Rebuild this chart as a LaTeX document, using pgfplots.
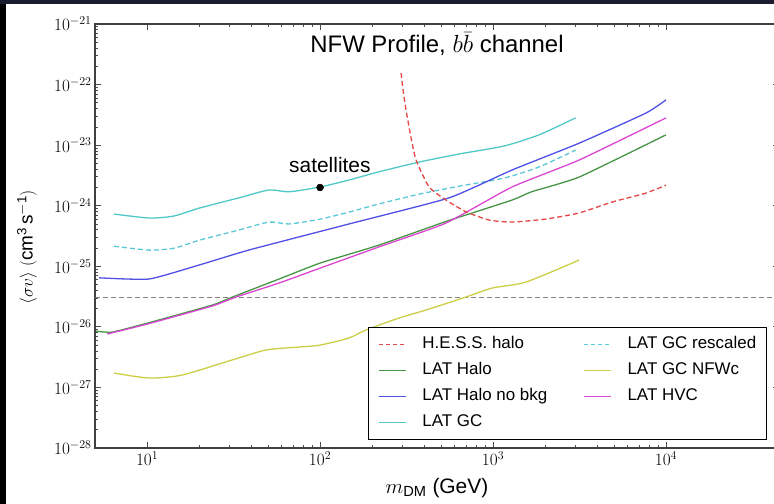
\documentclass[border=0pt]{standalone}
\usepackage{fontspec}
\setmainfont{Liberation Sans}
\usepackage{pgfplots}
\pgfplotsset{compat=1.18}
\definecolor{cHESS}{RGB}{230,70,70}
\definecolor{cHalo}{RGB}{70,150,70}
\definecolor{cNoBkg}{RGB}{80,80,230}
\definecolor{cGC}{RGB}{80,200,200}
\definecolor{cGCr}{RGB}{90,200,215}
\definecolor{cNFWc}{RGB}{205,205,70}
\definecolor{cHVC}{RGB}{220,70,210}
\definecolor{cNavy}{RGB}{28,28,48}
\begin{document}
\begin{tikzpicture}
\fill[white] (0bp,0bp) rectangle (774bp,504bp);
\begin{axis}[
  at={(95bp,56bp)}, anchor=south west,
  scale only axis, width=684bp, height=424bp,
  xmode=log, ymode=log,
  xmin=5, xmax=4.5e4, ymin=1e-28, ymax=1e-21,
  xtick={10,100,1000,10000},
  ytick={1e-28,1e-27,1e-26,1e-25,1e-24,1e-23,1e-22,1e-21},
  tick label style={font=\fontsize{17.5}{17.5}\selectfont},
  major tick length=6bp, minor tick length=3bp,
  tick style={black!70, line width=0.8bp},
  axis line style={black!75, line width=1.2bp},
  xlabel={$m_{\mathrm{DM}}$ (GeV)},
  xlabel style={at={(axis description cs:0.5,-0.108)}, anchor=base, font=\fontsize{21}{21}\selectfont},
  ylabel={$\langle\sigma v\rangle\ (\mathrm{cm^3\,s^{-1}})$},
  ylabel style={at={(axis description cs:-0.0994,0.474)}, anchor=center, rotate=0, font=\fontsize{19}{19}\selectfont},
  legend columns=2,
  legend cell align=left,
  legend image code/.code={\draw[#1] (0bp,0bp) -- (27bp,0bp);},
  legend style={at={(axis description cs:0.982,0.019)}, anchor=south east,
    draw=black, line width=1bp, fill=white,
    font=\fontsize{17}{17}\selectfont,
    inner xsep=10bp, inner ysep=9bp, row sep=10bp, column sep=0bp,
    nodes={inner sep=0bp, text height=12.5bp, text depth=3.5bp},
    /tikz/every odd column/.append style={column sep=16bp},
    /tikz/every even column/.append style={column sep=36bp}},
]
% thermal relic
\addplot[forget plot, gray, line width=1bp, dash pattern=on 5bp off 3bp] coordinates {(5,3.1e-26) (4.5e4,3.1e-26)};
% LAT GC rescaled (dashed cyan)
\addplot[forget plot, cGCr, line width=1.3bp, dash pattern=on 5bp off 3bp, smooth, tension=0.4] coordinates {
(6.44,2.15e-25) (10.27,1.85e-25) (14.3,1.99e-25) (20,2.69e-25) (34,3.98e-25) (50.7,5.37e-25) (66.2,5.0e-25) (100,6.0e-25) (147,7.85e-25) (219,1.07e-24) (373,1.55e-24) (635,2.1e-24) (1158,2.86e-24) (1846,4.37e-24) (3000,8.3e-24)};
% LAT GC NFWc
\addplot[forget plot, cNFWc, line width=1.3bp, smooth, tension=0.4] coordinates {
(6.44,1.73e-27) (10.27,1.43e-27) (15.9,1.60e-27) (31,2.84e-27) (48.7,4.15e-27) (75.7,4.65e-27) (100,5.0e-27) (147,6.55e-27) (184,8.87e-27) (286,1.40e-26) (410,1.9e-26) (698,3.11e-26) (986,4.37e-26) (1552,5.5e-26) (3150,1.27e-25)};
% LAT Halo (green)
\addplot[forget plot, cHalo, line width=1.3bp, smooth, tension=0.3] coordinates {
(5.07,8.5e-27) (6.28,8.2e-27) (10,1.15e-26) (23.8,2.29e-26) (31,3.09e-26) (58,6.17e-26) (100,1.13e-25) (219,2.24e-25) (535,5.5e-25) (1288,1.24e-24) (1670,1.70e-24) (3150,2.98e-24) (10000,1.48e-23)};
% LAT HVC (magenta)
\addplot[forget plot, cHVC, line width=1.3bp, smooth, tension=0.3] coordinates {
(5.88,7.62e-27) (10,1.11e-26) (23.8,2.21e-26) (32.7,3.11e-26) (58,5.3e-26) (100,9.33e-26) (219,2.09e-25) (535,5.19e-25) (1288,2.04e-24) (3150,5.69e-24) (10000,2.82e-23)};
% LAT Halo no bkg (blue)
\addplot[forget plot, cNoBkg, line width=1.3bp, smooth, tension=0.3] coordinates {
(5.28,6.46e-26) (10.27,6.17e-26) (20,1.05e-25) (38.9,1.86e-25) (147,5.0e-25) (557,1.35e-24) (1288,3.89e-24) (3150,1.08e-23) (7660,3.39e-23) (10000,5.6e-23)};
% LAT GC (cyan)
\addplot[forget plot, cGC, line width=1.3bp, smooth, tension=0.4] coordinates {
(6.44,7.29e-25) (10.27,6.27e-25) (14.3,6.76e-25) (20,9.12e-25) (34,1.35e-24) (50.7,1.82e-24) (66.2,1.70e-24) (100,2.04e-24) (147,2.66e-24) (219,3.63e-24) (373,5.25e-24) (635,7.14e-24) (1158,9.68e-24) (1846,1.48e-23) (3000,2.82e-23)};
% HESS halo (red dashed)
\addplot[forget plot, cHESS, line width=1.3bp, dash pattern=on 5bp off 3bp, smooth, tension=0.35] coordinates {
(294,1.55e-22) (302,8.1e-23) (314,3.8e-23) (336,1.32e-23) (359,5.69e-24) (427,2.04e-24) (535,1.24e-24) (698,7.94e-25) (948,5.81e-25) (1288,5.37e-25) (2025,6.03e-25) (3140,7.59e-25) (4875,1.15e-24) (7660,1.62e-24) (10000,2.19e-24)};
% satellites
\addplot[forget plot, only marks, mark=*, mark size=3.5bp, black] coordinates {(100,2.0e-24)};
\node[font=\fontsize{21}{21}\selectfont] at (axis cs:114,4.7e-24) {satellites};
\node[anchor=base, font=\fontsize{24}{24}\selectfont] at (axis description cs:0.5,0.932) {NFW Profile, $b\bar{b}$ channel};
% legend (row-major order)
\addlegendimage{cHESS, line width=1.3bp, dash pattern=on 4bp off 3bp}
\addlegendentry{H.E.S.S. halo}
\addlegendimage{cGCr, line width=1.3bp, dash pattern=on 4bp off 3bp}
\addlegendentry{LAT GC rescaled}
\addlegendimage{cHalo, line width=1.3bp}
\addlegendentry{LAT Halo}
\addlegendimage{cNFWc, line width=1.3bp}
\addlegendentry{LAT GC NFWc}
\addlegendimage{cNoBkg, line width=1.3bp}
\addlegendentry{LAT Halo no bkg}
\addlegendimage{cHVC, line width=1.3bp}
\addlegendentry{LAT HVC}
\addlegendimage{cGC, line width=1.3bp}
\addlegendentry{LAT GC}
\end{axis}
\fill[black] (0bp,0bp) rectangle (6bp,504bp);
\fill[cNavy] (0bp,500bp) rectangle (774bp,504bp);
\pgfresetboundingbox
\path[use as bounding box] (0bp,0bp) rectangle (774bp,504bp);
\end{tikzpicture}
\end{document}
